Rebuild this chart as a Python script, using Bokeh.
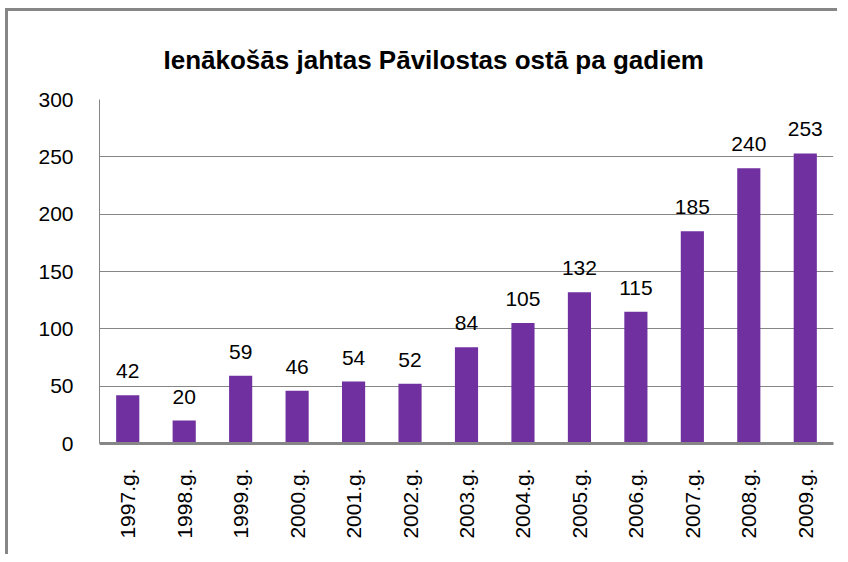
from bokeh.plotting import figure
from bokeh.models import ColumnDataSource, FixedTicker, Title, LabelSet
from bokeh.core.properties import value
from bokeh.embed import file_html
from bokeh.resources import INLINE

years = ["1997.g.", "1998.g.", "1999.g.", "2000.g.", "2001.g.", "2002.g.", "2003.g.",
         "2004.g.", "2005.g.", "2006.g.", "2007.g.", "2008.g.", "2009.g."]
yachts = [42, 20, 59, 46, 54, 52, 84, 105, 132, 115, 185, 240, 253]
y_ticks = [0, 50, 100, 150, 200, 250, 300]

FONT = "Liberation Sans"
GRAY = "#868686"

src = ColumnDataSource(dict(x=years, y=yachts, lbl=[str(v) for v in yachts]))

p = figure(x_range=years, y_range=(0, 300), width=832, height=546,
           output_backend="svg", toolbar_location=None,
           min_border_left=91, min_border_right=7, min_border_top=88, min_border_bottom=114)
p.styles = {"border-left": f"3px solid {GRAY}", "border-top": f"3px solid {GRAY}",
            "margin-left": "5px", "margin-top": "8px"}
p.x_range.range_padding = 0
p.outline_line_color = None

t = Title(text="Ienākošās jahtas Pāvilostas ostā pa gadiem", align="left",
          text_font=FONT, text_font_size="26px", text_font_style="bold",
          text_color="black", offset=64, standoff=50)
p.add_layout(t, "above")
p.title.visible = False

p.vbar(x="x", top="y", width=0.41, source=src, fill_color="#7030A0", line_color=None)

labels = LabelSet(x="x", y="y", text="lbl", source=src, text_align="center",
                  text_baseline="alphabetic", y_offset=17, text_font=value(FONT),
                  text_font_size=value("21px"), text_color="black")
p.add_layout(labels)

p.yaxis.ticker = FixedTicker(ticks=y_ticks)
p.yaxis.axis_line_color = GRAY
p.yaxis.major_tick_line_color = None
p.yaxis.minor_tick_line_color = None
p.yaxis.major_label_text_font = FONT
p.yaxis.major_label_text_font_size = "21px"
p.yaxis.major_label_standoff = 20
p.yaxis.major_label_text_color = "black"

p.xaxis.axis_line_color = GRAY
p.xaxis.axis_line_width = 3
p.xaxis.major_tick_line_color = None
p.xaxis.major_label_orientation = 1.5708
p.xaxis.major_label_text_font = FONT
p.xaxis.major_label_text_font_size = "21px"
p.xaxis.major_label_standoff = 19
p.xaxis.major_label_text_color = "black"

p.xgrid.grid_line_color = None
p.ygrid.grid_line_color = GRAY
p.ygrid.ticker = FixedTicker(ticks=y_ticks)

open("out.html", "w").write(file_html(p, INLINE))
